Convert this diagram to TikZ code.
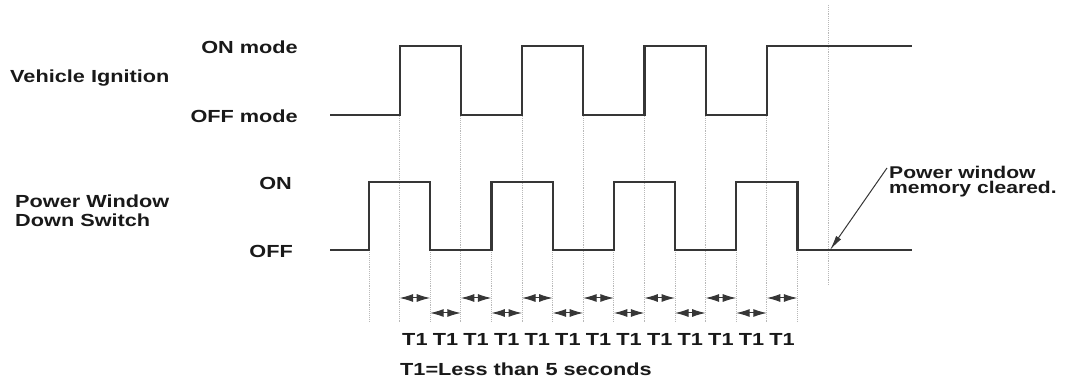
\documentclass[tikz,border=0pt]{standalone}
\usepackage{fontspec}
\newfontfamily\lblfont[FakeStretch=1.24]{Liberation Sans}
\usetikzlibrary{arrows.meta}
\definecolor{waveGray}{HTML}{363636}
\definecolor{guideGray}{HTML}{B8B8B8}
\tikzset{
  wave/.style={waveGray, line width=2.2pt},
  guide/.style={guideGray, densely dotted, line width=0.9pt},
  lbl/.style={font=\lblfont\bfseries\fontsize{17.5}{19}\selectfont, text=black!90, inner sep=0pt},
  dimarrow/.style={{Latex[length=13.5pt,width=8pt]}-{Latex[length=13.5pt,width=8pt]}, waveGray, line width=1pt},
}

\begin{document}
\begin{tikzpicture}[x=1pt, y=-1pt]
  \useasboundingbox (0,0) rectangle (1066,379);

  % dotted guide lines under each edge
  \foreach \k in {0,...,14} {
    \pgfmathsetmacro{\gx}{369+30.6*\k}
    \pgfmathsetmacro{\gtop}{isodd(\k) ? 46 : 182}
    \draw[guide] (\gx,\gtop) -- (\gx,322);
  }
  \draw[guide] (828,5) -- (828,285);

  % waveforms
  \draw[wave] (330,115) -| (399.6,46) -| (460.8,115) -| (522,46) -| (583.2,115)
              -| (644.4,46) -| (705.6,115) -| (766.8,46) -- (912,46);
  \draw[wave] (330,250) -| (369,182) -| (430.2,250) -| (491.4,182) -| (552.6,250)
              -| (613.8,182) -| (675,250) -| (736.2,182) -| (797.4,250) -- (912,250);

  % signal names and levels
  \node[lbl, anchor=base west] (ignition) at (10,83) {Vehicle Ignition};
  \node[lbl, anchor=north west, align=left] (switch) at (15,195) {Power Window\\Down Switch};
  \node[lbl, anchor=base east] (onmode)  at (298,54)  {ON mode};
  \node[lbl, anchor=base east] (offmode) at (298,123) {OFF mode};
  \node[lbl, anchor=base east] (on)      at (292,190) {ON};
  \node[lbl, anchor=base east] (off)     at (293,258) {OFF};

  % memory cleared note
  \node[lbl, anchor=north west, align=left, font=\lblfont\bfseries\fontsize{17}{15.5}\selectfont]
       (memnote) at (889,165.5) {Power window\\memory cleared.};
  \coordinate (cleared) at (830,250);
  \draw[-{Latex[length=15pt,width=6pt]}, waveGray, line width=1pt]
       ([xshift=-2pt,yshift=-2.5pt]memnote.north west) -- (cleared);

  % T1 intervals
  \foreach \k in {1,...,13} {
    \pgfmathsetmacro{\ax}{369+30.6*\k}
    \pgfmathsetmacro{\bx}{\ax+30.6}
    \pgfmathsetmacro{\ay}{isodd(\k) ? 298 : 313}
    \draw[dimarrow] (\ax,\ay) -- (\bx,\ay);
    \node[lbl, anchor=base] (t\k) at ({(\ax+\bx)/2},346) {T1};
  }
  \node[lbl, anchor=base west] (legend) at (400,376) {T1=Less than 5 seconds};
\end{tikzpicture}
\end{document}
